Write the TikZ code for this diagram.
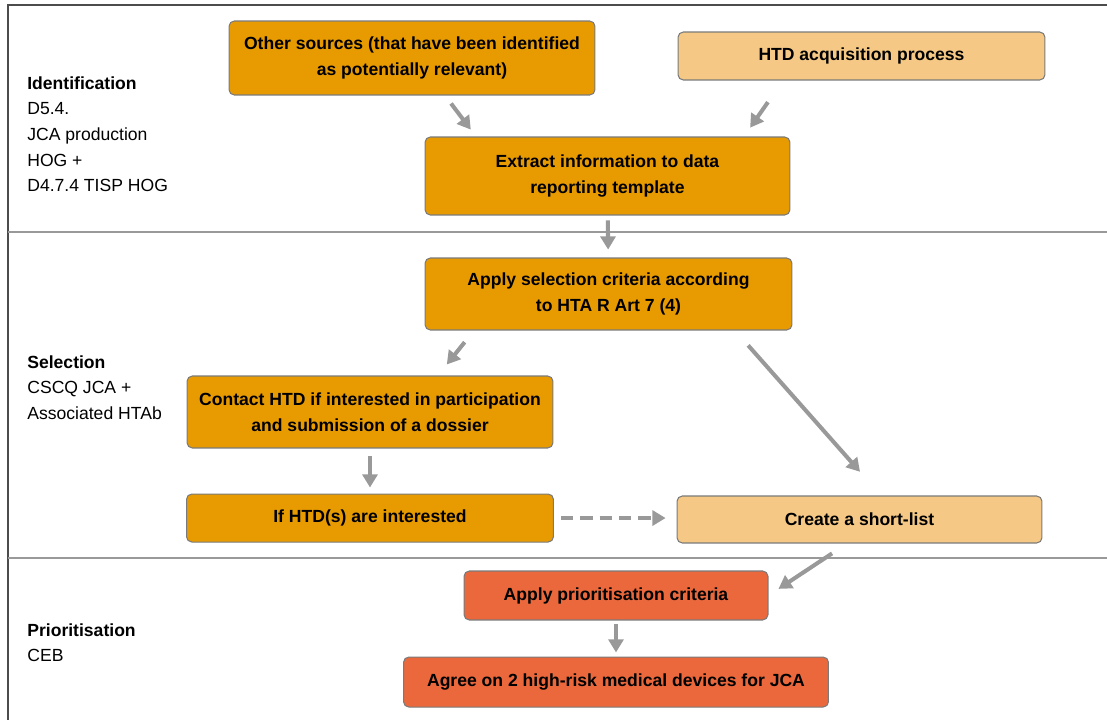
\documentclass[tikz,border=0pt]{standalone}
\usepackage{fontspec}
\setmainfont{Liberation Sans}
\usetikzlibrary{arrows.meta,calc,positioning}
\definecolor{naranja}{HTML}{E89B00}
\definecolor{claro}{HTML}{F5C985}
\definecolor{teja}{HTML}{EA683C}
\definecolor{borde}{HTML}{7A7A7A}
\definecolor{gris}{HTML}{999999}
\tikzstyle{etapa}=[
	rectangle,
	rounded corners=3pt,
	draw=borde,
	line width=0.6pt,
	inner sep=0pt,
	align=center,
	font=\fontsize{10}{14.7}\selectfont\bfseries]
\tikzstyle{fuerte}=[
	etapa,
	fill=naranja]
\tikzstyle{suave}=[
	etapa,
	fill=claro]
\tikzstyle{urgente}=[
	etapa,
	fill=teja]
\tikzstyle{fase}=[
	anchor=north west,
	inner sep=0pt,
	align=left,
	font=\fontsize{10}{14.6}\selectfont]
\tikzstyle{flecha}=[
	draw=gris,
	line width=2.3pt,
	-{Triangle[length=7.5pt,width=8.5pt]}]

\begin{document}
\begin{tikzpicture}[x=0.02cm,y=-0.02cm]
	\useasboundingbox (0,0) rectangle (1107,720);
	% marco y franjas
	\draw[line width=0.8pt,draw=black!70] (1107,5) -- (8,5) -- (8,720);
	\draw[line width=1pt,draw=gris] (8,232) -- (1107,232);
	\draw[line width=1pt,draw=gris] (8,558) -- (1107,558);
	% fases
	\node[fase] (identificacion) at (27,76) {\textbf{Identification}\\D5.4.\\JCA production\\HOG +\\D4.7.4 TISP HOG};
	\node[fase] (seleccion texto) at (27,355) {\textbf{Selection}\\CSCQ JCA +\\Associated HTAb};
	\node[fase] (priorizacion) at (27,623) {\textbf{Prioritisation}\\CEB};
	% pasos
	\node[fuerte,minimum width=7.32cm,minimum height=1.48cm] (otras) at (412,58) {Other sources (that have been identified\\as potentially relevant)};
	\node[suave,minimum width=7.34cm,minimum height=0.96cm] (adquisicion) at (861.5,56) {HTD acquisition process};
	\node[fuerte,minimum width=7.3cm,minimum height=1.56cm] (extraer) at (607.5,176) {Extract information to data\\reporting template};
	\node[fuerte,minimum width=7.34cm,minimum height=1.44cm] (seleccion) at (608.5,294) {Apply selection criteria according\\to HTA R Art 7 (4)};
	\node[fuerte,minimum width=7.32cm,minimum height=1.44cm] (contacto) at (370,412) {Contact HTD if interested in participation\\and submission of a dossier};
	\node[fuerte,minimum width=7.34cm,minimum height=0.96cm,below=0.9cm of contacto] (interes) {If HTD(s) are interested};
	\node[suave,minimum width=7.3cm,minimum height=0.94cm] (lista) at (859.5,519.5) {Create a short-list};
	\node[urgente,minimum width=6.08cm,minimum height=0.98cm] (prioridad) at (616,595.5) {Apply prioritisation criteria};
	\node[urgente,minimum width=8.5cm,minimum height=1cm,below=0.72cm of prioridad] (acuerdo) {Agree on 2 high-risk medical devices for JCA};
	% flechas
	\draw[flecha,shorten <=5.7pt,shorten >=4.9pt] ($(otras.south)+(33,0)$) -- ($(extraer.north)+(-131.5,0)$);
	\draw[flecha,shorten <=15pt,shorten >=6.1pt] ($(adquisicion.south)+(-78.5,0)$) -- ($(extraer.north)+(136.5,0)$);
	\draw[flecha,shorten <=2.8pt,shorten >=4.5pt] (extraer) -- (seleccion);
	\draw[flecha,shorten <=8.5pt,shorten >=8pt] ($(seleccion.south)+(-134.5,0)$) -- ($(contacto.north)+(68,0)$);
	\draw[flecha,shorten <=11.3pt,shorten >=18pt] ($(seleccion.south)+(126.5,0)$) -- ($(lista.north)+(21.5,0)$);
	\draw[flecha,shorten <=4.5pt,shorten >=3.4pt] (contacto) -- (interes);
	\draw[flecha,dash pattern=on 7pt off 4pt,shorten <=4pt,shorten >=6.2pt] (interes.east) -- (interes.east -| lista.west);
	\draw[flecha,shorten <=10.2pt,shorten >=6.8pt] ($(lista.south)+(-12.5,0)$) -- (prioridad.east);
	\draw[flecha,shorten <=1.7pt,shorten >=2.3pt] (prioridad) -- (acuerdo);
\end{tikzpicture}
\end{document}
